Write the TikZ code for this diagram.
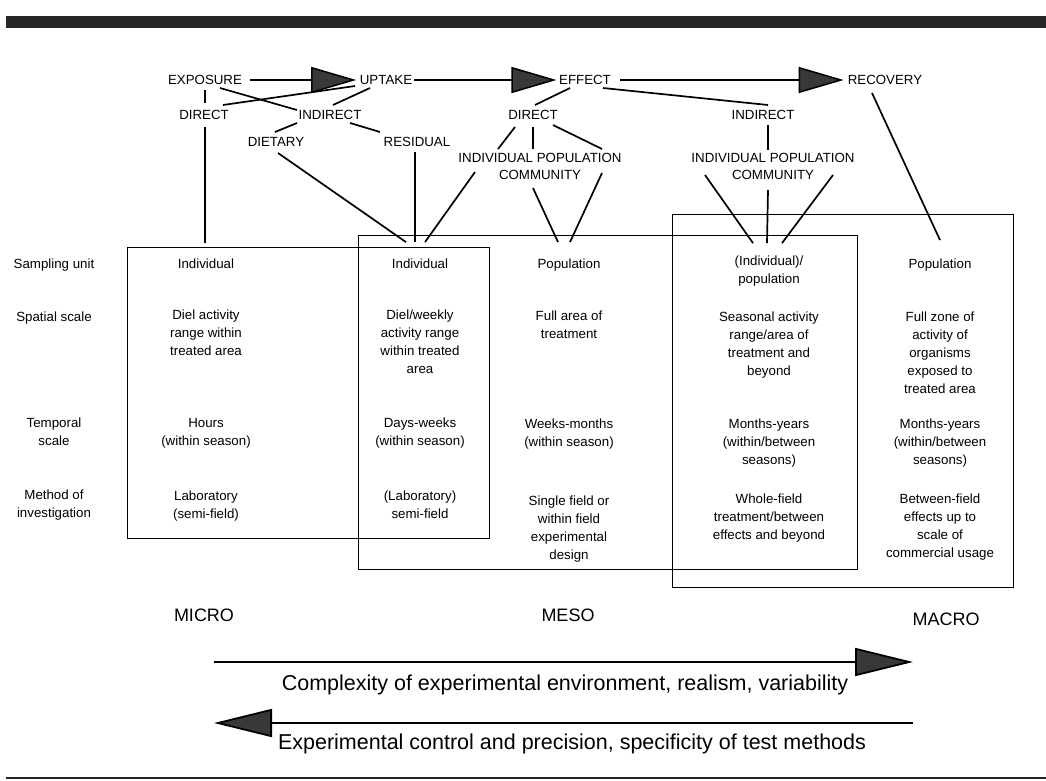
\documentclass[tikz,border=0pt]{standalone}
\usepackage{fontspec}
\setmainfont{Liberation Sans}
\usetikzlibrary{arrows.meta,calc}
\begin{document}
\begin{tikzpicture}[x=1pt,y=-1pt,
  toplbl/.style={font=\fontsize{13.3}{17}\selectfont, inner sep=1pt, text height=9.6pt, text depth=0pt},
  ipc/.style={font=\fontsize{13.3}{17}\selectfont, align=center, anchor=north, inner sep=0pt, execute at begin node=\strut},
  cell/.style={font=\fontsize{13.3}{17.8}\selectfont, align=center, anchor=north, inner sep=0pt, execute at begin node=\strut},
  scalelbl/.style={font=\fontsize{18}{20}\selectfont, inner sep=1pt, text height=13pt, text depth=0pt},
  bottomtxt/.style={font=\fontsize{21.5}{24}\selectfont, inner sep=1pt},
  conn/.style={line width=1.7pt},
  framebox/.style={line width=0.9pt},
  bigarrow/.style={line width=1.5pt, -{Triangle[length=45pt,width=26pt,fill=black!78]}},
  longarrow/.style={line width=1.8pt, -{Triangle[length=58pt,width=28pt,fill=black!78]}}
]
\useasboundingbox (0,0) rectangle (1046,780);
% top band and bottom rule
\fill[black!85] (6,16) rectangle (1046,28);
\fill[black!85] (6,776.5) rectangle (1046,779);

% frames
\draw[framebox] (127,247) rectangle (489,538);
\draw[framebox] (358,235) rectangle (857,569);
\draw[framebox] (672,214) rectangle (1013,587);

% top labels
\node[toplbl] (expo) at (205,80) {EXPOSURE};
\node[toplbl] (upt) at (386,80) {UPTAKE};
\node[toplbl] (eff) at (585,80) {EFFECT};
\node[toplbl] (rec) at (885,80) {RECOVERY};
\node[toplbl] (dir1) at (204,115) {DIRECT};
\node[toplbl] (ind1) at (330,115) {INDIRECT};
\node[toplbl] (diet) at (276,142) {DIETARY};
\node[toplbl] (resid) at (417,142) {RESIDUAL};
\node[toplbl] (dir2) at (533,115) {DIRECT};
\node[toplbl] (ind2) at (763,115) {INDIRECT};
\node[ipc] (ipc2) at (540,153) {INDIVIDUAL POPULATION\\COMMUNITY};
\node[ipc] (ipc4) at (773,153) {INDIVIDUAL POPULATION\\COMMUNITY};

% row labels
\node[cell] (r1) at (54,256.1) {Sampling unit};
\node[cell] (r2) at (54,309.1) {Spatial scale};
\node[cell] (r3) at (54,418.1) {Temporal\\scale};
\node[cell] (r4) at (54,490.1) {Method of\\investigation};

% column cells
\node[cell] (c1a) at (206,256.1) {Individual};
\node[cell] (c1b) at (206,310.1) {Diel activity\\range within\\treated area};
\node[cell] (c1c) at (206,418.1) {Hours\\(within season)};
\node[cell] (c1d) at (206,491.1) {Laboratory\\(semi-field)};

\node[cell] (c2a) at (420,256.1) {Individual};
\node[cell] (c2b) at (420,310.1) {Diel/weekly\\activity range\\within treated\\area};
\node[cell] (c2c) at (420,418.1) {Days-weeks\\(within season)};
\node[cell] (c2d) at (420,491.1) {(Laboratory)\\semi-field};

\node[cell] (c3a) at (569,256.1) {Population};
\node[cell] (c3b) at (569,311.1) {Full area of\\treatment};
\node[cell] (c3c) at (569,419.1) {Weeks-months\\(within season)};
\node[cell] (c3d) at (569,496.1) {Single field or\\within field\\experimental\\design};

\node[cell] (c4a) at (769,256.1) {(Individual)/\\population};
\node[cell] (c4b) at (769,312.1) {Seasonal activity\\range/area of\\treatment and\\beyond};
\node[cell] (c4c) at (769,419.1) {Months-years\\(within/between\\seasons)};
\node[cell] (c4d) at (769,494.1) {Whole-field\\treatment/between\\effects and beyond};

\node[cell] (c5a) at (940,256.1) {Population};
\node[cell] (c5b) at (940,312.1) {Full zone of\\activity of\\organisms\\exposed to\\treated area};
\node[cell] (c5c) at (940,419.1) {Months-years\\(within/between\\seasons)};
\node[cell] (c5d) at (940,494.1) {Between-field\\effects up to\\scale of\\commercial usage};

% big arrows top
\draw[bigarrow] ($(expo.east)+(7,0)$) -- ($(upt.west)+(-2.5,0)$);
\draw[bigarrow] ($(upt.east)+(1,0)$) -- ($(eff.west)+(-1.5,0)$);
\draw[bigarrow] ($(eff.east)+(8,0)$) -- ($(rec.west)+(-3,0)$);

% connectors
\draw[conn] ($(expo)+(0,10)$) -- ($(dir1)+(1,-12)$);
\draw[conn] ($(expo)+(15,8)$) -- ($(ind1)+(-33,-5)$);
\draw[conn] ($(dir1)+(19,-10)$) -- ($(upt)+(-31,6)$);
\draw[conn] ($(upt)+(-16,8)$) -- ($(ind1)+(3,-10)$);
\draw[conn] ($(ind1)+(-33,8)$) -- ($(diet)+(-1,-10)$);
\draw[conn] ($(ind1)+(20,8)$) -- ($(resid)+(-37,-10)$);
\draw[conn] ($(dir1)+(1,12)$) -- ($(c1a.north)+(-1,-13)$);
\draw[conn] ($(diet)+(2,11)$) -- ($(c2a.north)+(-14,-14)$);
\draw[conn] ($(resid)+(-2,10)$) -- ($(c2a.north)+(-5,-14)$);
\draw[conn] ($(ipc2.north)+(-65,19)$) -- ($(c2a.north)+(5,-14)$);
\draw[conn] ($(eff)+(-15,8)$) -- ($(dir2)+(2,-10)$);
\draw[conn] ($(eff)+(18,8)$) -- ($(ind2)+(5,-10)$);
\draw[conn] ($(dir2)+(-18,12)$) -- ($(ipc2.north)+(-42,-4)$);
\draw[conn] ($(dir2)+(0,12)$) -- ($(ipc2.north)+(-7,-4)$);
\draw[conn] ($(dir2)+(20,10)$) -- ($(ipc2.north)+(62,-4)$);
\draw[conn] ($(ipc2.north)+(-7,35)$) -- ($(c3a.north)+(-11,-14)$);
\draw[conn] ($(ipc2.north)+(62,20)$) -- ($(c3a.north)+(1,-14)$);
\draw[conn] ($(ind2)+(5,10)$) -- ($(ipc4.north)+(-5,-3)$);
\draw[conn] ($(ipc4.north)+(-68,22)$) -- ($(c4a.north)+(-16,-13)$);
\draw[conn] ($(ipc4.north)+(-5,37)$) -- ($(c4a.north)+(-2,-13)$);
\draw[conn] ($(ipc4.north)+(60,22)$) -- ($(c4a.north)+(13,-13)$);
\draw[conn] ($(rec)+(-13,13)$) -- ($(c5a.north)+(0,-16)$);

% scale labels
\node[scalelbl] (micro) at (204,615) {MICRO};
\node[scalelbl] (meso) at (568,615) {MESO};
\node[scalelbl] (macro) at (946,619) {MACRO};

% bottom arrows
\coordinate (b1s) at (214,662);
\coordinate (b1e) at (913,662);
\draw[longarrow] (b1s) -- (b1e);
\node[bottomtxt] (t1) at (565,685) {Complexity of experimental environment, realism, variability};
\coordinate (b2s) at (913,723);
\coordinate (b2e) at (214,723);
\draw[longarrow] (b2s) -- (b2e);
\node[bottomtxt] (t2) at (572,744) {Experimental control and precision, specificity of test methods};
\end{tikzpicture}
\end{document}
